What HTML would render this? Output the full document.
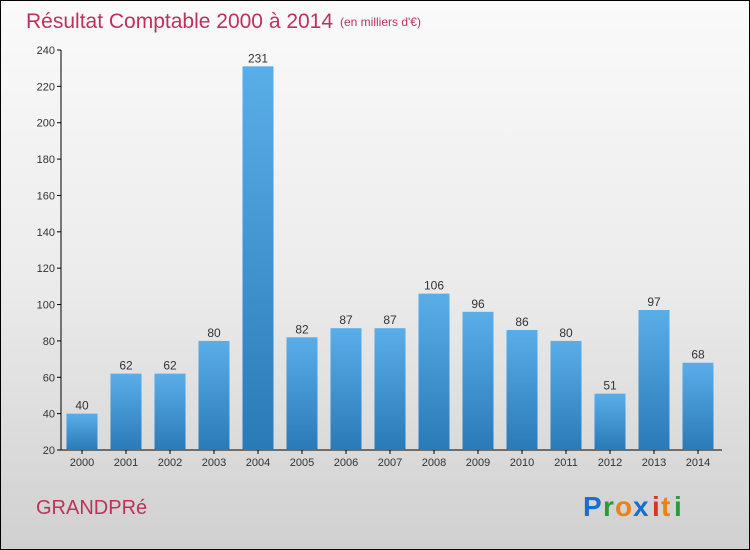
<!DOCTYPE html>
<html><head><meta charset="utf-8"><style>
body{margin:0}
#c{position:relative;width:748px;height:548px;border:1px solid #000;background:linear-gradient(#fafafa,#ececec 50%,#d0d0d0);font-family:"Liberation Sans",sans-serif;overflow:hidden}
</style></head><body>
<div id="c">
<svg width="748" height="548" viewBox="1 1 748 548" style="position:absolute;left:0;top:0">
<defs><linearGradient id="bg" x1="0" y1="0" x2="0" y2="1"><stop offset="0" stop-color="#5aaee8"/><stop offset="1" stop-color="#2a7ab8"/></linearGradient></defs>
<text x="26" y="28" font-size="21" fill="#c0305a">Résultat Comptable 2000 à 2014</text>
<text x="340" y="26" font-size="12" fill="#c0305a">(en milliers d'€)</text>
<g id="axes"></g><g id="bars"></g>
<text x="36" y="514" font-size="20" fill="#c0305a">GRANDPRé</text>
<g font-size="28" font-weight="bold"><text x="583" y="516" fill="#1a6ed0">P</text><text x="603" y="516" fill="#2a9a3a">r</text><text x="615" y="516" fill="#f08010">o</text><text x="633" y="516" fill="#1a6ed0">x</text><text x="652" y="516" fill="#e03020">i</text><text x="661" y="516" fill="#f08010">t</text><text x="674" y="516" fill="#2a9a3a">i</text></g>
</svg>
</div>
<script>
const years=["2000","2001","2002","2003","2004","2005","2006","2007","2008","2009","2010","2011","2012","2013","2014"];
const values=[40,62,62,80,231,82,87,87,106,96,86,80,51,97,68];
const ticks=[20,40,60,80,100,120,140,160,180,200,220,240];
const NS="http://www.w3.org/2000/svg";
const y=v=>450-(v-20)*400/220;
const x=i=>82+i*44;
function mk(t,a,p){const e=document.createElementNS(NS,t);for(const k in a)e.setAttribute(k,a[k]);p.appendChild(e);return e;}
const ax=document.getElementById('axes'),bs=document.getElementById('bars');
const yl=mk('line',{x1:61,y1:50,x2:61,y2:450,stroke:'#000'},ax);


const xl=mk('line',{x1:61,y1:450,x2:722,y2:450,stroke:'#000'},ax);


ticks.forEach(t=>{mk('line',{x1:57,y1:y(t),x2:61,y2:y(t),stroke:'#000'},ax);
const tx=mk('text',{x:55,y:y(t)+4,'font-size':11,fill:'#333','text-anchor':'end'},ax);tx.textContent=t;

});
years.forEach((yr,i)=>{
const r=mk('rect',{x:x(i)-15.5,y:y(values[i]),width:31,height:450-y(values[i]),fill:'url(#bg)'},bs);


const v=mk('text',{x:x(i),y:y(values[i])-4,'font-size':12,fill:'#333','text-anchor':'middle'},bs);v.textContent=values[i];


mk('line',{x1:x(i),y1:450,x2:x(i),y2:454,stroke:'#000'},ax);
const l=mk('text',{x:x(i),y:466,'font-size':11,fill:'#333','text-anchor':'middle'},ax);l.textContent=yr;

});
</script>
</body></html>
